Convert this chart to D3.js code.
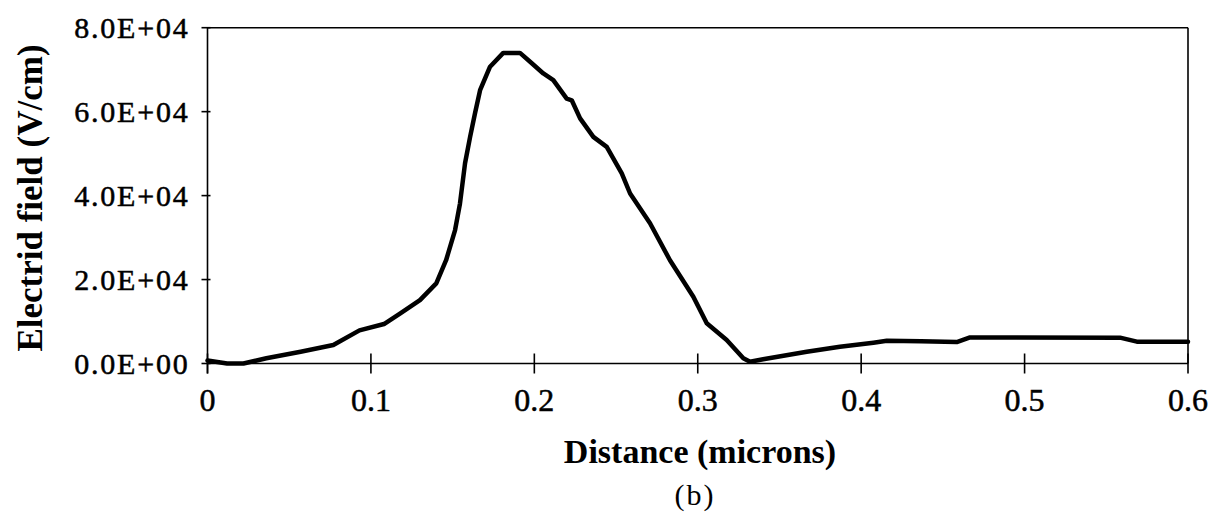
<!DOCTYPE html>
<html>
<head>
<meta charset="utf-8">
<script src="https://cdn.jsdelivr.net/npm/d3@7"></script>
<style>
  body { margin: 0; background: #fff; }
  svg { display: block; }
  text { font-family: "Liberation Serif", "Times New Roman", serif; fill: #000; }
</style>
</head>
<body>
<div id="chart"></div>
<script>
// distance (microns) and electric field (V/cm)
const distance = [0, 0.012, 0.022, 0.036, 0.057, 0.077, 0.093, 0.108, 0.118, 0.13, 0.14, 0.146,
  0.1515, 0.1545, 0.1576, 0.1607, 0.1637, 0.1668, 0.1729, 0.181, 0.1912, 0.1974, 0.2055, 0.2116,
  0.2198, 0.2229, 0.228, 0.2361, 0.2443, 0.2535, 0.2586, 0.2708, 0.283, 0.2973, 0.3055, 0.3177,
  0.3279, 0.332, 0.34, 0.3667, 0.387, 0.4075, 0.4157, 0.4366, 0.4585, 0.4666, 0.5584, 0.5687, 0.6];
const field = [700, 0, 0, 1240, 2800, 4400, 7900, 9400, 11950, 15100, 19100, 24600,
  31800, 38100, 47700, 54000, 59600, 65100, 70700, 74000, 74000, 71900, 69100, 67500,
  63100, 62700, 58400, 54000, 51600, 45300, 40500, 33400, 24600, 15900, 9570, 5600,
  1240, 400, 1000, 2800, 4000, 4950, 5400, 5300, 5100, 6200, 6150, 5200, 5200];

const xTicks = [0, 0.1, 0.2, 0.3, 0.4, 0.5, 0.6];
const yTicks = [0, 20000, 40000, 60000, 80000];
const xTitle = "Distance (microns)";
const yTitle = "Electrid field (V/cm)";
const caption = "(b)";

const width = 1227, height = 515;
const margin = { left: 207.5, right: 39, top: 27.7, bottom: 151.5 };

const svg = d3.select("#chart").append("svg").attr("width", width).attr("height", height);

const x = d3.scaleLinear().domain([0, 0.6]).range([margin.left, width - margin.right]);
const y = d3.scaleLinear().domain([0, 80000]).range([height - margin.bottom, margin.top]);

// frame: top and right border
svg.append("line")
  .attr("x1", x(0)).attr("x2", x(0.6)).attr("y1", y(80000)).attr("y2", y(80000))
  .attr("stroke", "#000").attr("stroke-width", 1.6);
svg.append("line")
  .attr("x1", x(0.6)).attr("x2", x(0.6)).attr("y1", y(80000)).attr("y2", y(0))
  .attr("stroke", "#000").attr("stroke-width", 1.6);

// x axis, ticks cross the line
const xAxis = svg.append("g").attr("transform", `translate(0,${y(0)})`);
xAxis.append("line").attr("x1", x(0)).attr("x2", x(0.6)).attr("stroke", "#000").attr("stroke-width", 1.6);
xAxis.selectAll(".tk").data(xTicks).join("line")
  .attr("x1", d => x(d)).attr("x2", d => x(d)).attr("y1", -10).attr("y2", 10)
  .attr("stroke", "#000").attr("stroke-width", 1.6);
xAxis.selectAll("text").data(xTicks).join("text")
  .attr("x", d => x(d)).attr("y", 47)
  .attr("text-anchor", "middle").attr("font-size", 32)
  .attr("stroke", "#000").attr("stroke-width", 0.5)
  .text(d => d3.format("")(d));

// y axis
const yAxis = svg.append("g").attr("transform", `translate(${x(0)},0)`);
yAxis.append("line").attr("y1", y(80000)).attr("y2", y(0) + 10).attr("stroke", "#000").attr("stroke-width", 1.6);
yAxis.selectAll(".tk").data(yTicks).join("line")
  .attr("x1", -6).attr("x2", 3).attr("y1", d => y(d)).attr("y2", d => y(d))
  .attr("stroke", "#000").attr("stroke-width", 1.6);
yAxis.selectAll("text").data(yTicks).join("text")
  .attr("x", -18).attr("y", d => y(d) + 10)
  .attr("text-anchor", "end").attr("font-size", 30).attr("letter-spacing", 1.8)
  .attr("stroke", "#000").attr("stroke-width", 0.5)
  .text(d => d.toExponential(1).toUpperCase().replace(/E([+-])(\d)$/, "E$10$2"));

// curve
const line = d3.line().x((d, i) => x(distance[i])).y(d => y(d));
svg.append("path").datum(field)
  .attr("d", line)
  .attr("fill", "none").attr("stroke", "#000").attr("stroke-width", 4.5)
  .attr("stroke-linejoin", "round").attr("stroke-linecap", "round");

// titles
svg.append("text")
  .attr("x", 700).attr("y", 463)
  .attr("text-anchor", "middle").attr("font-size", 34).attr("font-weight", "bold")
  .text(xTitle);

svg.append("text")
  .attr("transform", "translate(42,198) rotate(-90)")
  .attr("text-anchor", "middle").attr("font-size", 35).attr("font-weight", "bold")
  .text(yTitle);

svg.append("text")
  .attr("x", 695).attr("y", 505)
  .attr("text-anchor", "middle").attr("font-size", 30).attr("letter-spacing", 2)
  .attr("font-family", "Liberation Sans, Arial, sans-serif")
  .text(caption);
</script>
</body>
</html>
